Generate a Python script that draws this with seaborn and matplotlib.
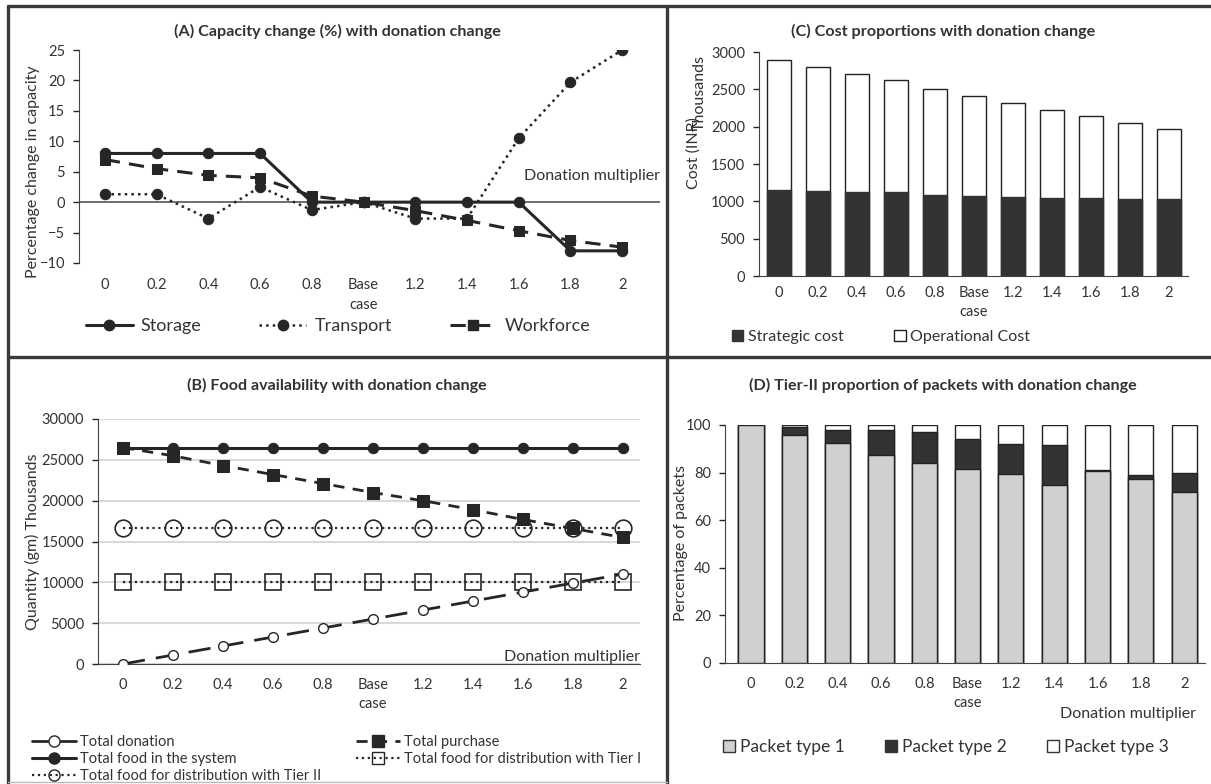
import matplotlib
matplotlib.use('Agg')

import numpy as np
import matplotlib.pyplot as plt
import matplotlib.patches as mpatches
from matplotlib.lines import Line2D
import seaborn as sns

sns.set_style('white')
plt.rcParams['font.family'] = ['Lato', 'DejaVu Sans']

W, H = 1211, 784

# ── data ──
labels = ["0", "0.2", "0.4", "0.6", "0.8", "Base\ncase", "1.2", "1.4", "1.6", "1.8", "2"]

storage   = [8, 8, 8, 8, 0, 0, 0, 0, 0, -8, -8]
transport = [1.3, 1.3, -2.7, 2.5, -1.3, 0, -2.7, -2.7, 10.5, 19.7, 25]
workforce = [7, 5.5, 4.4, 4, 1, 0, -1.4, -3, -4.7, -6.3, -7.4]

donation  = [0, 1100, 2200, 3300, 4400, 5500, 6600, 7700, 8800, 9900, 11000]
purchase  = [26500, 25500, 24300, 23200, 22100, 21000, 20000, 18900, 17700, 16600, 15500]
food_sys  = [26500] * 11
tier1     = [10000] * 11
tier2     = [16600] * 11

strategic   = [1155, 1145, 1130, 1125, 1085, 1075, 1060, 1045, 1045, 1030, 1030]
operational = [1735, 1655, 1580, 1495, 1425, 1340, 1260, 1180, 1100, 1025, 945]

pack1 = [100, 96, 92.5, 87.5, 84, 81.5, 79.5, 75, 80.5, 77.5, 72]
pack2 = [0, 3, 5.5, 10.5, 13, 12.5, 12.5, 16.5, 0.5, 1.5, 8]
pack3 = [0, 1, 2, 2, 3, 6, 8, 8.5, 19, 21, 20]

pos = np.arange(len(labels))
DARK = '#262626'
BAR_DARK = '#333333'
LIGHT = '#d0d0d0'
TXT = '#333333'
TICK_FS = 10.5
TITLE_FS = 11.6


def rect(l, t, r, b):
    return [l / W, 1 - b / H, (r - l) / W, (b - t) / H]


def fx(x):
    return x / W


def fy(y):
    return 1 - y / H


def style_axis(ax, xpad):
    ax.set_xticks(pos)
    ax.set_xticklabels(labels, fontsize=TICK_FS, color=TXT, linespacing=1.5)
    ax.tick_params(axis='x', length=0, pad=xpad)
    ax.tick_params(axis='y', length=4, width=1, direction='out', left=True,
                   labelsize=TICK_FS, labelcolor=TXT, pad=6)
    for s in ['top', 'right']:
        ax.spines[s].set_visible(False)
    ax.spines['left'].set_color('#444444')
    ax.spines['bottom'].set_color('#444444')


fig = plt.figure(figsize=(W / 100, H / 100), dpi=100)

# ─────────────────────────────────────────
# (A) capacity change
# ─────────────────────────────────────────
axA = fig.add_axes(rect(79, 50, 660, 263))
axA.axhline(0, color='#555555', lw=1.2, zorder=1)
sns.lineplot(x=pos, y=storage, ax=axA, color=DARK, lw=2.2, marker='o', markersize=7.5,
             markeredgecolor=DARK, zorder=3)
sns.lineplot(x=pos, y=transport, ax=axA, color=DARK, lw=1.8, linestyle=':', marker='o',
             markersize=7.5, markeredgecolor=DARK, zorder=3)
sns.lineplot(x=pos, y=workforce, ax=axA, color=DARK, lw=2.2, linestyle=(0, (5, 3)),
             marker='s', markersize=7.5, markeredgecolor=DARK, zorder=3)
axA.set_xlim(-0.5, 10.73)
axA.set_ylim(-10, 25)
axA.set_yticks(range(-10, 26, 5))
style_axis(axA, xpad=11)
axA.spines['bottom'].set_visible(False)
axA.set_ylabel("Percentage change in capacity", fontsize=11.5, color=TXT)
axA.yaxis.set_label_coords((40 - 79) / (660 - 79), 0.43)
axA.text(10.73, 4.3, "Donation multiplier", ha='right', va='center', fontsize=11.5,
         color=TXT)
hA = [Line2D([], [], color=DARK, lw=2.2, marker='o', markersize=7.5),
      Line2D([], [], color=DARK, lw=1.8, ls=':', marker='o', markersize=7.5),
      Line2D([], [], color=DARK, lw=2.2, ls=(0, (5, 3)), marker='s', markersize=7.5)]
fig.legend(hA, ["Storage", "Transport", "Workforce"], loc='center',
           bbox_to_anchor=(fx(338), fy(326)), ncol=3, frameon=False, fontsize=13,
           handlelength=2.6, columnspacing=3.2, handletextpad=0.45, labelcolor=TXT)
fig.text(fx(337), fy(31), "(A) Capacity change (%) with donation change", ha='center',
         va='center', fontsize=TITLE_FS, fontweight='bold', color=TXT)

# ─────────────────────────────────────────
# (C) cost proportions
# ─────────────────────────────────────────
axC = fig.add_axes(rect(759, 52, 1188, 276))
total_cost = [s + o for s, o in zip(strategic, operational)]
sns.barplot(x=pos, y=total_cost, ax=axC, color='white', edgecolor='#222222', linewidth=1,
            width=0.6, native_scale=True, zorder=2)
sns.barplot(x=pos, y=strategic, ax=axC, color=BAR_DARK, edgecolor=BAR_DARK, linewidth=1,
            width=0.6, native_scale=True, saturation=1, zorder=3)
axC.set_xlim(-0.51, 10.49)
axC.set_ylim(0, 3000)
axC.set_yticks(range(0, 3001, 500))
style_axis(axC, xpad=7)
axC.set_ylabel("")
# two stacked axis titles, overlapping as in the original export
fig.text(fx(694), fy(153), "Cost (INR)", rotation=90, ha='center', va='center',
         fontsize=11.5, color=TXT)
fig.text(fx(700), fy(93), "Thousands", rotation=90, ha='center', va='center',
         fontsize=11.5, color=TXT)
hC = [mpatches.Patch(facecolor=BAR_DARK, edgecolor=BAR_DARK),
      mpatches.Patch(facecolor='white', edgecolor='#222222')]
fig.legend(hC, ["Strategic cost", "Operational Cost"], loc='center',
           bbox_to_anchor=(fx(881), fy(337)), ncol=2, frameon=False, fontsize=11.5,
           handlelength=0.7, handleheight=0.7, columnspacing=3.2, handletextpad=0.3,
           labelcolor=TXT)
fig.text(fx(943), fy(31), "(C) Cost proportions with donation change", ha='center',
         va='center', fontsize=TITLE_FS, fontweight='bold', color=TXT)

# ─────────────────────────────────────────
# (B) food availability
# ─────────────────────────────────────────
axB = fig.add_axes(rect(98, 419, 640, 664))
axB.yaxis.grid(True, color='#d9d9d9', lw=1.5)
axB.set_axisbelow(True)
sns.lineplot(x=pos, y=food_sys, ax=axB, color=DARK, lw=2.2, marker='o', markersize=7.5,
             markeredgecolor=DARK, zorder=3)
sns.lineplot(x=pos, y=purchase, ax=axB, color=DARK, lw=2.0, linestyle=(0, (4, 3)),
             marker='s', markersize=8, markeredgecolor=DARK, zorder=4)
sns.lineplot(x=pos, y=tier2, ax=axB, color=DARK, lw=1.6, linestyle=':', marker='o',
             markersize=12, markerfacecolor='none', markeredgecolor=DARK,
             markeredgewidth=1.2, zorder=3)
sns.lineplot(x=pos, y=tier1, ax=axB, color=DARK, lw=1.6, linestyle=':', marker='s',
             markersize=12, markerfacecolor='none', markeredgecolor=DARK,
             markeredgewidth=1.2, zorder=3)
sns.lineplot(x=pos, y=donation, ax=axB, color=DARK, lw=2.0, linestyle=(0, (8, 4)),
             marker='o', markersize=7, markerfacecolor='white', markeredgecolor=DARK,
             markeredgewidth=1.0, zorder=5)
axB.set_xlim(-0.5, 10.35)
axB.set_ylim(0, 30000)
axB.set_yticks(range(0, 30001, 5000))
style_axis(axB, xpad=10)
axB.set_ylabel("Quantity (gm) Thousands", fontsize=11.5, color=TXT)
axB.yaxis.set_label_coords((40 - 98) / (640 - 98), 0.5)
axB.text(10.35, 900, "Donation multiplier", ha='right', va='center', fontsize=11.5,
         color=TXT)
hB = [Line2D([], [], color=DARK, lw=2.0, marker='o', markersize=8, markerfacecolor='white'),
      Line2D([], [], color=DARK, lw=2.2, marker='o', markersize=8),
      Line2D([], [], color=DARK, lw=1.6, ls=':', marker='o', markersize=8,
             markerfacecolor='none'),
      Line2D([], [], color=DARK, lw=2.0, ls=(0, (4, 3)), marker='s', markersize=8),
      Line2D([], [], color=DARK, lw=1.6, ls=':', marker='s', markersize=8,
             markerfacecolor='none')]
fig.legend(hB, ["Total donation", "Total food in the system",
                "Total food for distribution with Tier II", "Total purchase",
                "Total food for distribution with Tier I"],
           loc='upper left', bbox_to_anchor=(fx(26), fy(729)), ncol=2, frameon=False,
           fontsize=10.5, handlelength=3.0, columnspacing=2.4, handletextpad=0.3,
           labelspacing=0.22, borderaxespad=0, labelcolor=TXT)
fig.text(fx(337), fy(385), "(B) Food availability with donation change", ha='center',
         va='center', fontsize=TITLE_FS, fontweight='bold', color=TXT)

# ─────────────────────────────────────────
# (D) packet proportions
# ─────────────────────────────────────────
axD = fig.add_axes(rect(725, 425, 1205, 663))
top12 = [a + b for a, b in zip(pack1, pack2)]
top123 = [a + b for a, b in zip(top12, pack3)]
sns.barplot(x=pos, y=top123, ax=axD, color='white', edgecolor='#222222', linewidth=1,
            width=0.58, native_scale=True, zorder=2)
sns.barplot(x=pos, y=top12, ax=axD, color=BAR_DARK, edgecolor='#222222', linewidth=1,
            width=0.58, native_scale=True, saturation=1, zorder=3)
sns.barplot(x=pos, y=pack1, ax=axD, color=LIGHT, edgecolor='#222222', linewidth=1,
            width=0.58, native_scale=True, saturation=1, zorder=4)
axD.set_xlim(-0.6, 10.48)
axD.set_ylim(0, 100)
axD.set_yticks(range(0, 101, 20))
style_axis(axD, xpad=10)
axD.set_ylabel("Percentage of packets", fontsize=11.5, color=TXT)
axD.yaxis.set_label_coords((688 - 725) / (1205 - 725), (663 - 543) / (663 - 425))
fig.text(fx(1196), fy(714), "Donation multiplier", ha='right', va='center',
         fontsize=11.5, color=TXT)
hD = [mpatches.Patch(facecolor=LIGHT, edgecolor='#333333'),
      mpatches.Patch(facecolor=BAR_DARK, edgecolor=BAR_DARK),
      mpatches.Patch(facecolor='white', edgecolor='#333333')]
fig.legend(hD, ["Packet type 1", "Packet type 2", "Packet type 3"], loc='center',
           bbox_to_anchor=(fx(946), fy(747)), ncol=3, frameon=False, fontsize=12.5,
           handlelength=0.7, handleheight=0.7, columnspacing=2.3, handletextpad=0.3,
           labelcolor=TXT)
fig.text(fx(943), fy(385), "(D) Tier-II proportion of packets with donation change",
         ha='center', va='center', fontsize=TITLE_FS, fontweight='bold', color=TXT)

# ─────────────────────────────────────────
# panel frame lines
# ─────────────────────────────────────────
frame_kw = dict(color='#3a3a3a', lw=2.4, transform=fig.transFigure)
fig.add_artist(Line2D([fx(8), fx(8)], [fy(6), fy(784)], **frame_kw))
fig.add_artist(Line2D([fx(8), fx(1211)], [fy(6), fy(6)], **frame_kw))
fig.add_artist(Line2D([fx(667), fx(667)], [fy(6), fy(784)], **frame_kw))
fig.add_artist(Line2D([fx(8), fx(1211)], [fy(357), fy(357)], **frame_kw))
fig.add_artist(Line2D([fx(8), fx(667)], [fy(782), fy(782)], color='#bbbbbb', lw=1,
                      transform=fig.transFigure))

fig.savefig("out.png", dpi=100)
